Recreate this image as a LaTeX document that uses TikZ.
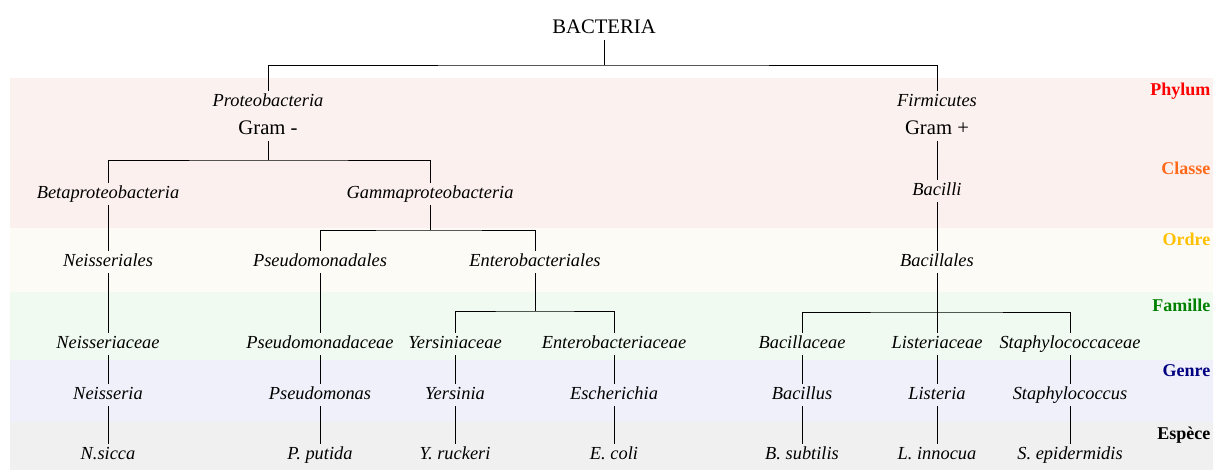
\documentclass[tikz,border=0pt]{standalone}
\usepackage{fontspec}
\setmainfont{Liberation Serif}
\usepackage{xcolor}
\definecolor{bandphy}{HTML}{FBF1EF}
\definecolor{bandcla}{HTML}{FCF0EE}
\definecolor{bandord}{HTML}{FDFBF6}
\definecolor{bandfam}{HTML}{F0FAF0}
\definecolor{bandgen}{HTML}{F0F0FA}
\definecolor{bandesp}{HTML}{F0F0F0}
\definecolor{rkorange}{HTML}{FF6A1A}
\definecolor{rkgold}{HTML}{FFC000}
\definecolor{rkgreen}{HTML}{008000}
\definecolor{rknavy}{HTML}{000080}

\begin{document}
\begin{tikzpicture}[
  x=0.75pt, y=-0.75pt, line width=0.6pt,  taxon/.style={inner sep=2pt,yshift=-1.5pt,text height=9.5pt,text depth=3pt,font=\fontsize{13.8}{16}\selectfont\itshape},  plain/.style={inner sep=2pt,yshift=-1pt,text height=10.5pt,text depth=3pt,font=\fontsize{15.5}{18}\selectfont},  rank/.style={anchor=east,inner sep=1pt,text height=9.5pt,text depth=3pt,font=\fontsize{13.5}{15}\selectfont\bfseries}
]
  \useasboundingbox (0,0) rectangle (1213,470);
  % bands
  \fill[bandphy] (10,78) rectangle (1213,159);
  \fill[bandcla] (10,159) rectangle (1213,228);
  \fill[bandord] (10,228) rectangle (1213,292);
  \fill[bandfam] (10,292) rectangle (1213,360);
  \fill[bandgen] (10,360) rectangle (1213,422);
  \fill[bandesp] (10,422) rectangle (1213,470);
  \node[rank,text=red] (rphy) at (1212,91) {Phylum};
  \node[rank,text=rkorange] (rcla) at (1212,170) {Classe};
  \node[rank,text=rkgold] (rord) at (1212,241) {Ordre};
  \node[rank,text=rkgreen] (rfam) at (1212,307) {Famille};
  \node[rank,text=rknavy] (rgen) at (1212,372) {Genre};
  \node[rank,text=black] (resp) at (1212,435) {Espèce};
  % tree
  \node[plain] (bact) at (604,27) {BACTERIA};
  \node[taxon] (prot) at (268,100) {Proteobacteria};
  \node[plain] (gneg) at (268,128) {Gram -};
  \node[taxon] (firm) at (937,100) {Firmicutes};
  \node[plain] (gpos) at (937,128) {Gram +};
  \node[taxon] (beta) at (108,192) {Betaproteobacteria};
  \node[taxon] (gamma) at (430,192) {Gammaproteobacteria};
  \node[taxon] (bacil) at (937,189) {Bacilli};
  \node[taxon] (neisl) at (108,260) {Neisseriales};
  \node[taxon] (pseul) at (320,260) {Pseudomonadales};
  \node[taxon] (entl) at (535,260) {Enterobacteriales};
  \node[taxon] (bacl) at (937,260) {Bacillales};
  \node[taxon] (neisc) at (108,342) {Neisseriaceae};
  \node[taxon] (pseuc) at (320,342) {Pseudomonadaceae};
  \node[taxon] (yersc) at (455,342) {Yersiniaceae};
  \node[taxon] (entc) at (614,342) {Enterobacteriaceae};
  \node[taxon] (bacc) at (802,342) {Bacillaceae};
  \node[taxon] (listc) at (937,342) {Listeriaceae};
  \node[taxon] (staphc) at (1070,342) {Staphylococcaceae};
  \node[taxon] (neis) at (108,393) {Neisseria};
  \node[taxon] (pseu) at (320,393) {Pseudomonas};
  \node[taxon] (yers) at (455,393) {Yersinia};
  \node[taxon] (esch) at (614,393) {Escherichia};
  \node[taxon] (bacs) at (802,393) {Bacillus};
  \node[taxon] (list) at (937,393) {Listeria};
  \node[taxon] (staph) at (1070,393) {Staphylococcus};
  \node[taxon] (nsic) at (108,453) {N.sicca};
  \node[taxon] (pput) at (320,453) {P. putida};
  \node[taxon] (yruc) at (455,453) {Y. ruckeri};
  \node[taxon] (ecol) at (614,453) {E. coli};
  \node[taxon] (bsub) at (802,453) {B. subtilis};
  \node[taxon] (linn) at (937,453) {L. innocua};
  \node[taxon] (sepi) at (1070,453) {S. epidermidis};
  \coordinate (j0) at (604,65);
  \coordinate (j1) at (268,160);
  \coordinate (j2) at (430,230);
  \coordinate (j3) at (535,311);
  \coordinate (j4) at (937,312);
  \draw (bact) -- (j0);
  \draw (prot.north) |- (j0) -| (firm.north);
  \draw (gneg) -- (j1);
  \draw (beta.north) |- (j1) -| (gamma.north);
  \draw (gamma) -- (j2);
  \draw (pseul.north) |- (j2) -| (entl.north);
  \draw (entl) -- (j3);
  \draw (yersc.north) |- (j3) -| (entc.north);
  \draw (gpos) -- (bacil);
  \draw (bacil) -- (bacl);
  \draw (bacl) -- (listc);
  \draw (bacc.north) |- (j4) -| (staphc.north);
  \draw (beta) -- (neisl);
  \draw (neisl) -- (neisc);
  \draw (pseul) -- (pseuc);
  \draw (neisc) -- (neis);
  \draw (pseuc) -- (pseu);
  \draw (yersc) -- (yers);
  \draw (entc) -- (esch);
  \draw (bacc) -- (bacs);
  \draw (listc) -- (list);
  \draw (staphc) -- (staph);
  \draw (neis) -- (nsic);
  \draw (pseu) -- (pput);
  \draw (yers) -- (yruc);
  \draw (esch) -- (ecol);
  \draw (bacs) -- (bsub);
  \draw (list) -- (linn);
  \draw (staph) -- (sepi);
\end{tikzpicture}
\end{document}
